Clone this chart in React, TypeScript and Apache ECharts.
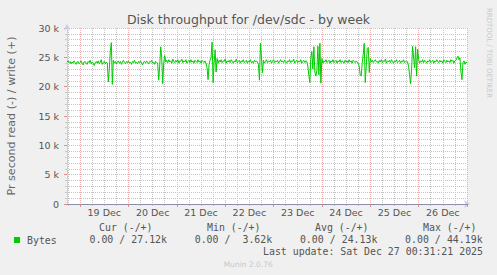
import React, { useEffect, useRef } from "react";
import * as echarts from "echarts";

const TITLE = "Disk throughput for /dev/sdc - by week";
const Y_NAME = "Pr second read (-) / write (+)";
const SERIES_NAME = "Bytes";
const DAY_LABELS = ["19 Dec", "20 Dec", "21 Dec", "22 Dec", "23 Dec", "24 Dec", "25 Dec", "26 Dec"];
const DAY_LABEL_HOURS = [12, 36, 60, 84, 108, 132, 156, 180];
const MAJOR_GRID_HOURS = [0, 24, 48, 72, 96, 120, 144, 168, 192];
const MINOR_GRID_HOURS = [-6, 0, 6, 12, 18, 24, 30, 36, 42, 48, 54, 60, 66, 72, 78, 84, 90, 96, 102, 108, 114, 120, 126, 132, 138, 144, 150, 156, 162, 168, 174, 180, 186, 192];
// hours relative to 19 Dec 00:00; one sample every 30 minutes
const START_HOUR = -6.5;
const STEP_HOUR = 0.5;
const END_HOUR = 192;
// write throughput, in k bytes per second
const WRITE_K = [
  24.2, 24.4, 24.1, 24.3, 23.9, 24.2, 24.0, 24.4, 24.1, 23.8,
  24.2, 24.3, 23.9, 24.1, 24.4, 24.0, 23.7, 24.2, 24.3, 24.0,
  23.8, 24.3, 24.1, 24.5, 23.9, 24.2, 24.0, 23.6, 24.1, 24.3,
  24.0, 24.4, 23.9, 24.2, 24.6, 23.8, 24.1, 24.3, 23.9, 24.2,
  24.0, 20.8, 23.0, 26.1, 27.5, 20.4, 24.5, 24.0, 24.3, 23.9,
  24.2, 24.4, 24.0, 24.3, 23.8, 24.2, 24.5, 24.1, 23.9, 24.3,
  24.1, 24.4, 24.0, 24.2, 23.8, 24.3, 24.1, 24.5, 24.0, 24.2,
  23.9, 24.3, 24.1, 24.4, 24.0, 23.7, 24.2, 24.3, 24.0, 24.4,
  24.1, 23.9, 24.3, 24.2, 24.5, 24.0, 24.2, 23.8, 24.3, 24.1,
  24.0, 21.1, 23.5, 26.8, 25.0, 20.5, 24.0, 25.3, 24.2, 24.5,
  24.1, 24.6, 24.2, 24.4, 24.0, 24.7, 24.3, 24.1, 24.5, 24.2,
  24.6, 24.0, 24.4, 24.3, 24.7, 24.1, 24.4, 24.2, 24.6, 24.0,
  24.3, 24.5, 24.1, 24.6, 24.2, 24.4, 24.0, 24.5, 24.3, 24.1,
  24.6, 24.2, 24.4, 24.0, 24.5, 24.3, 24.1, 24.4, 24.0, 23.2,
  21.2, 23.8, 24.5, 25.0, 27.6, 20.7, 24.0, 26.3, 22.5, 24.8,
  24.0, 24.5, 24.2, 24.6, 24.1, 24.4, 24.3, 24.7, 24.0, 24.4,
  24.2, 24.5, 24.1, 24.6, 24.3, 24.0, 24.4, 24.2, 24.7, 24.1,
  24.3, 24.5, 24.0, 24.4, 24.2, 24.6, 24.1, 24.3, 24.5, 24.0,
  24.4, 24.2, 24.6, 24.1, 24.3, 24.0, 24.5, 24.2, 24.4, 24.2,
  23.8, 21.1, 27.4, 25.0, 22.4, 24.5, 24.0, 24.3, 24.6, 24.1,
  24.4, 24.2, 24.5, 24.0, 24.3, 24.6, 24.1, 24.4, 24.2, 24.5,
  24.0, 24.3, 24.6, 24.2, 24.4, 24.1, 24.5, 24.3, 24.0, 24.4,
  24.2, 24.6, 24.1, 24.4, 24.3, 24.7, 24.0, 24.3, 24.5, 24.1,
  24.4, 24.2, 24.6, 24.0, 24.3, 24.5, 24.1, 24.4, 24.3, 23.5,
  22.0, 20.7, 25.0, 26.0, 23.0, 26.8, 22.5, 21.8, 22.8, 26.9,
  22.0, 27.4, 20.6, 24.8, 24.0, 24.4, 24.2, 24.6, 24.1, 24.3,
  24.5, 24.0, 24.4, 24.2, 24.6, 24.1, 24.3, 24.5, 24.0, 24.4,
  24.2, 24.6, 24.1, 24.4, 24.3, 24.0, 24.5, 24.2, 24.4, 24.1,
  24.6, 24.2, 24.4, 24.0, 24.5, 24.3, 24.1, 24.4, 24.2, 24.0,
  23.5, 22.0, 21.8, 24.0, 25.5, 27.4, 20.7, 23.5, 26.5, 26.7,
  22.4, 24.8, 24.2, 24.5, 24.1, 24.4, 24.6, 24.2, 24.3, 24.0,
  24.5, 24.2, 24.6, 24.1, 24.4, 24.3, 24.7, 24.0, 24.4, 24.2,
  24.5, 24.1, 24.6, 24.3, 24.0, 24.4, 24.2, 24.6, 24.1, 24.3,
  24.5, 24.0, 24.4, 24.2, 24.6, 24.1, 24.3, 24.4, 24.2, 23.5,
  22.0, 20.5, 23.0, 26.9, 25.0, 23.2, 26.8, 21.8, 26.4, 24.6,
  24.0, 24.4, 24.2, 24.6, 24.1, 24.5, 24.3, 24.0, 24.4, 24.2,
  24.6, 24.1, 24.3, 24.5, 24.0, 24.4, 24.2, 24.6, 24.3, 24.1,
  24.5, 24.2, 24.4, 24.0, 24.6, 24.3, 24.1, 24.5, 24.2, 24.4,
  24.1, 24.6, 24.3, 24.5, 24.0, 24.4, 24.5, 24.9, 25.2, 24.6,
  24.9, 22.5, 21.2, 24.1, 24.4, 23.8, 24.2, 24.0,
];
const Y_MAX = 30000;
const Y_STEP = 5000;
const STAT_HEADERS = ["Cur (-/+)", "Min (-/+)", "Avg (-/+)", "Max (-/+)"];
const STAT_READ = ["0.00 /", "0.00 /", "0.00 /", "0.00 /"];
const STAT_WRITE = ["27.12k", "3.62k", "24.13k", "44.19k"];
const LAST_UPDATE = "Last update: Sat Dec 27 00:31:21 2025";
const FOOTER = "Munin 2.0.76";
const WATERMARK = "RRDTOOL / TOBI OETIKER";

const SANS = "DejaVu Sans";
const MONO = "DejaVu Sans Mono";
const GREEN = "#00cc00";
const MINOR_COLOR = "#c4c4c4";
const MAJOR_COLOR = "#f0b0b0";
const AXIS_BLUE = "#c6cdf2";

export default function App() {
  const ref = useRef<HTMLDivElement>(null);

  useEffect(() => {
    document.body.style.margin = "0";
    const chart = echarts.init(ref.current!, undefined, { renderer: "svg" });
    const seriesData = WRITE_K.map((v, i) => [START_HOUR + i * STEP_HOUR, v * 1000]);

    const graphics: any[] = [];
    // white plotting canvas, behind everything
    graphics.push({
      type: "rect", z: -100, silent: true,
      shape: { x: 67, y: 28, width: 400, height: 176 },
      style: { fill: "#ffffff" },
    });
    graphics.push({
      type: "text", x: 11.5, y: 116, rotation: Math.PI / 2,
      style: { text: Y_NAME, font: `11.1px "${SANS}"`, fill: "#666", align: "center", verticalAlign: "middle" },
    });
    graphics.push({
      type: "text", x: 488.5, y: 53, rotation: -Math.PI / 2,
      style: { text: WATERMARK, font: `7px "${SANS}"`, fill: "#c8c8c8", align: "center", verticalAlign: "middle" },
    });
    STAT_HEADERS.forEach((h, k) => {
      graphics.push({
        type: "text", x: 99 + k * 108, y: 227.5,
        style: { text: h, font: `9.9px "${MONO}"`, fill: "#555", align: "left", verticalAlign: "middle" },
      });
    });
    STAT_READ.forEach((r, k) => {
      const x0 = 89.5 + k * 105.2;
      graphics.push({
        type: "text", x: x0, y: 239.5,
        style: { text: r, font: `9.9px "${MONO}"`, fill: "#555", align: "left", verticalAlign: "middle" },
      });
      graphics.push({
        type: "text", x: x0 + 77.5, y: 239.5,
        style: { text: STAT_WRITE[k], font: `9.9px "${MONO}"`, fill: "#555", align: "right", verticalAlign: "middle" },
      });
    });
    graphics.push({
      type: "text", x: 483, y: 251.7,
      style: { text: LAST_UPDATE, font: `9.9px "${MONO}"`, fill: "#555", align: "right", verticalAlign: "middle" },
    });
    graphics.push({
      type: "text", x: 248.3, y: 264,
      style: { text: FOOTER, font: `7.5px "${SANS}"`, fill: "#c8c8c8", align: "center", verticalAlign: "middle" },
    });

    const option: any = {
      animation: false,
      backgroundColor: "#f0f0f0",
      textStyle: { fontFamily: SANS },
      title: {
        text: TITLE, left: "center", top: 11.5, padding: 0,
        textStyle: { fontFamily: SANS, fontSize: 12.5, fontWeight: "normal", color: "#555", lineHeight: 15 },
      },
      legend: {
        data: [SERIES_NAME], left: 14, top: 234, padding: 0, icon: "rect", itemWidth: 6, itemHeight: 6,
        selectedMode: false,
        textStyle: { fontFamily: MONO, fontSize: 9.9, color: "#555", lineHeight: 12, padding: [0, 0, 0, 2] },
      },
      grid: {
        left: 67, right: 30, top: 28, bottom: 71, containLabel: false, outerBoundsMode: "none",
        show: false,
      },
      xAxis: [
        {
          type: "value", position: "bottom", min: START_HOUR, max: END_HOUR, z: 1,
          axisLine: { show: true, onZero: false, lineStyle: { color: AXIS_BLUE, width: 1 }, symbol: ["none", "arrow"], symbolSize: [6, 6], symbolOffset: [0, 3] },
          axisTick: { show: true, customValues: MINOR_GRID_HOURS, length: 2, lineStyle: { color: "#c8c8c8" } },
          axisLabel: { show: false },
          splitLine: { show: true, lineStyle: { color: MINOR_COLOR, type: [1, 1], width: 1 } },
        },
        {
          type: "value", position: "bottom", min: START_HOUR, max: END_HOUR, z: 2,
          axisLine: { show: false, onZero: false },
          axisTick: { show: true, customValues: MAJOR_GRID_HOURS, length: 3, lineStyle: { color: "#e88a8a" } },
          axisLabel: { show: false },
          splitLine: { show: true, lineStyle: { color: MAJOR_COLOR, type: [1, 1], width: 1 } },
        },
        {
          type: "value", position: "bottom", min: START_HOUR, max: END_HOUR, z: 3,
          axisLine: { show: true, onZero: false, lineStyle: { color: "#8e8ea6", width: 1 } },
          axisTick: { show: false, customValues: DAY_LABEL_HOURS },
          splitLine: { show: false },
          axisLabel: {
            show: true, customValues: DAY_LABEL_HOURS, margin: 3,
            fontFamily: SANS, fontSize: 9.5, lineHeight: 11, color: "#555",
            formatter: (v: number) => DAY_LABELS[DAY_LABEL_HOURS.indexOf(v)] ?? "",
          },
        },
      ],
      yAxis: {
        type: "value", position: "left", min: 0, max: Y_MAX, interval: Y_STEP, z: 2,
        axisLine: { show: true, onZero: false, lineStyle: { color: AXIS_BLUE, width: 1 }, symbol: ["none", "arrow"], symbolSize: [5, 6], symbolOffset: [0, 4] },
        axisTick: { show: true, length: 3, lineStyle: { color: "#e88a8a" } },
        minorTick: { show: true, splitNumber: 5, length: 2, lineStyle: { color: "#c8c8c8" } },
        axisLabel: {
          margin: 8, fontFamily: SANS, fontSize: 9.5, color: "#555",
          formatter: (v: number) => (v === 0 ? "0" : `${v / 1000} k`),
        },
        splitLine: { show: true, lineStyle: { color: MAJOR_COLOR, type: [1, 1], width: 1 } },
        minorSplitLine: { show: true, lineStyle: { color: MINOR_COLOR, type: [1, 1], width: 1 } },
      },
      series: [
        {
          name: SERIES_NAME, type: "line", xAxisIndex: 0, yAxisIndex: 0, data: seriesData,
          showSymbol: false, symbol: "none", color: GREEN,
          lineStyle: { color: GREEN, width: 1 }, clip: true, silent: true, z: 10,
        },
      ],
      graphic: graphics,
    };
    chart.setOption(option);
    return () => chart.dispose();
  }, []);

  return <div ref={ref} style={{ width: 497, height: 275 }} />;
}
